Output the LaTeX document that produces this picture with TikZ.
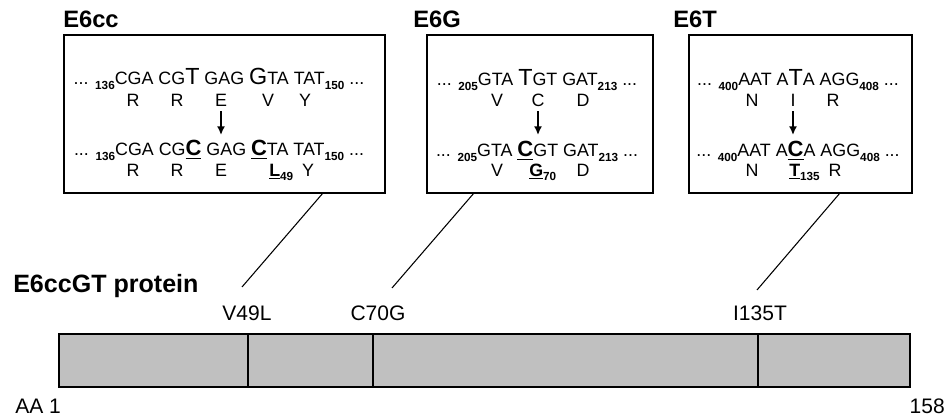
\documentclass[tikz,border=0pt]{standalone}
\usepackage{fontspec}
\setmainfont{Liberation Sans}
\usetikzlibrary{arrows.meta}

\definecolor{barfill}{RGB}{192,192,192}

\newcommand{\seqsize}{\fontsize{13.4pt}{15pt}\selectfont}
\newcommand{\bigbase}[1]{{\fontsize{17.5pt}{17.5pt}\selectfont #1}}
\newcommand{\mutbase}[1]{\underline{{\bfseries\fontsize{16.5pt}{16.5pt}\selectfont #1}}}
\newcommand{\mutaa}[1]{\underline{\textbf{#1}}}
\newcommand{\resno}[1]{\raisebox{-0.5ex}{\bfseries\fontsize{8.8pt}{8.8pt}\selectfont #1}}

\tikzset{
	seqbox/.style={draw, line width=1.5pt},
	seqrow/.style={anchor=base, inner sep=0pt, font=\seqsize},
	aa/.style={anchor=base, inner sep=1pt, font=\seqsize},
	mutarrow/.style={-{Latex[length=6.5pt,width=6pt]}, line width=1.2pt, shorten <=2pt},
	conn/.style={line width=0.8pt},
	title/.style={anchor=base west, inner sep=0pt, font=\bfseries\fontsize{17.8pt}{19pt}\selectfont},
	sitelabel/.style={anchor=base, inner sep=0pt, font=\fontsize{15.75pt}{17pt}\selectfont},
	protbar/.style={draw, fill=barfill, line width=1.5pt},
	divider/.style={line width=1.5pt}
}

\begin{document}
\begin{tikzpicture}[x=0.75pt,y=-0.75pt]

	\useasboundingbox (0,0) rectangle (946,417);

	\draw [seqbox] (64,35) rectangle (385,193);
	\draw [seqbox] (427,35) rectangle (653,193);
	\draw [seqbox] (689,35) rectangle (912,193);

	\node[title] (cctitle) at (63,28) {E6cc};
	\node[title] (gtitle) at (413,28) {E6G};
	\node[title] (ttitle) at (673,28) {E6T};

	\node[seqrow] (ccwt) at (219,85) {... \resno{136}CGA CG\bigbase{T} GAG \bigbase{G}TA TAT\resno{150} ...};
	\node[aa] (ccR1) at (133,107) {R};
	\node[aa] (ccR2) at (177,107) {R};
	\node[aa] (ccE) at (221,107) {E};
	\node[aa] (ccV) at (268,107) {V};
	\node[aa] (ccY) at (305,107) {Y};
	\coordinate (cctip) at (221,135);
	\draw [mutarrow] (ccE) -- (cctip);
	\node[seqrow] (ccmut) at (219,156) {... \resno{136}CGA CG\mutbase{C} GAG \mutbase{C}TA TAT\resno{150} ...};
	\node[aa] (ccR3) at (133,176) {R};
	\node[aa] (ccR4) at (177,176) {R};
	\node[aa] (ccE2) at (221,176) {E};
	\node[aa, anchor=base west, inner sep=0pt] (ccL) at (269,176) {\mutaa{L}\resno{49}};
	\node[aa] (ccY2) at (308,176) {Y};

	\node[seqrow] (gwt) at (537,86) {... \resno{205}GTA \bigbase{T}GT GAT\resno{213} ...};
	\node[aa] (gV) at (497,107) {V};
	\node[aa] (gC) at (538,107) {C};
	\node[aa] (gD) at (583,107) {D};
	\coordinate (gtip) at (538,135);
	\draw [mutarrow] (gC) -- (gtip);
	\node[seqrow] (gmut) at (537,157) {... \resno{205}GTA \mutbase{C}GT GAT\resno{213} ...};
	\node[aa] (gV2) at (497,176) {V};
	\node[aa, anchor=base west, inner sep=0pt] (gG) at (529,176) {\mutaa{G}\resno{70}};
	\node[aa] (gD2) at (583,176) {D};

	\node[seqrow] (twt) at (798,86) {... \resno{400}AAT A\bigbase{T}A AGG\resno{408} ...};
	\node[aa] (tN) at (752,107) {N};
	\node[aa] (tI) at (793,107) {I};
	\node[aa] (tR) at (833,107) {R};
	\coordinate (ttip) at (793,135);
	\draw [mutarrow] (tI) -- (ttip);
	\node[seqrow] (tmut) at (798,157) {... \resno{400}AAT A\mutbase{C}A AGG\resno{408} ...};
	\node[aa] (tN2) at (752,176) {N};
	\node[aa, anchor=base west, inner sep=0pt] (tT) at (789,176) {\mutaa{T}\resno{135}};
	\node[aa] (tR2) at (835,176) {R};

	\coordinate (cctop) at (323,193);
	\coordinate (ccend) at (242,287);
	\coordinate (gtop) at (474,193);
	\coordinate (gend) at (392,288);
	\coordinate (ttop) at (840,193);
	\coordinate (tend) at (757,290);
	\draw [conn] (cctop) -- (ccend);
	\draw [conn] (gtop) -- (gend);
	\draw [conn] (ttop) -- (tend);

	\node[title, font=\bfseries\fontsize{18.8pt}{20pt}\selectfont] (prot) at (13,292) {E6ccGT protein};

	\node[sitelabel] (v49l) at (247,320) {V49L};
	\node[sitelabel] (c70g) at (378,320) {C70G};
	\node[sitelabel] (i135t) at (760,320) {I135T};

	\draw [protbar] (59,334) rectangle (910,387);
	\draw [divider] (248,334) -- (248,387);
	\draw [divider] (373,334) -- (373,387);
	\draw [divider] (758,334) -- (758,387);

	\node[sitelabel, anchor=base west] (aastart) at (15,413) {AA 1};
	\node[sitelabel, anchor=base east] (aaend) at (945,413) {158};

\end{tikzpicture}
\end{document}
